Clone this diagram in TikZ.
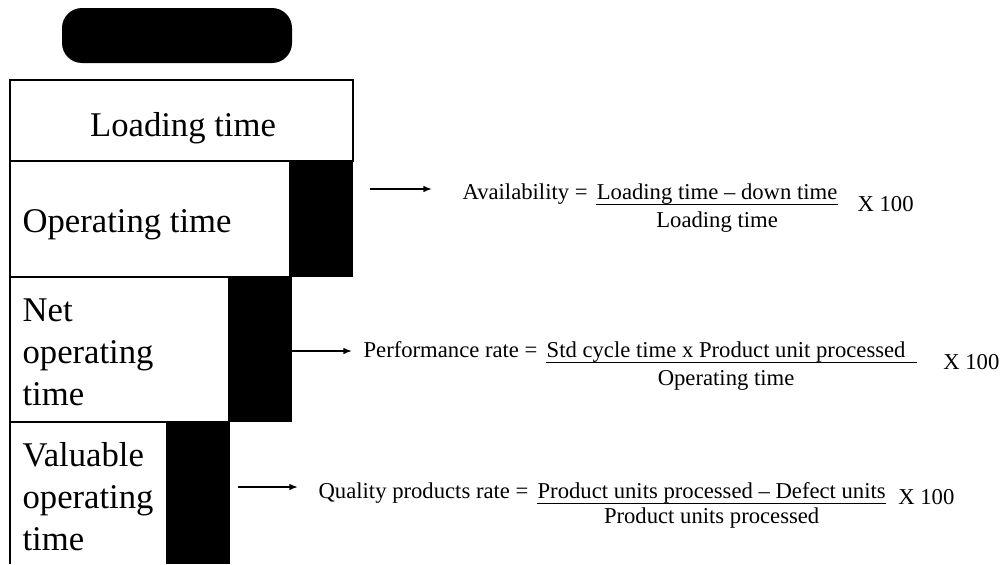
\documentclass[tikz,border=0pt]{standalone}
\usepackage{fontspec}
\setmainfont{Liberation Serif}
\usetikzlibrary{arrows.meta}

\tikzset{
  boxtext/.style={font=\fontsize{26}{31.5}\selectfont, inner sep=0pt},
  frm/.style={font=\fontsize{17}{20}\selectfont, inner sep=0pt},
  flow/.style={line width=1.2pt, -{Latex[length=6.5pt,width=5pt]}},
}

\begin{document}
\begin{tikzpicture}[x=0.75pt, y=-0.75pt, line width=0.9pt]
    \useasboundingbox (0,0) rectangle (1006,564);

    % heading
    \fill[rounded corners=15pt] (62,8) rectangle (292,63);

    % time bars
    \draw (10,80) rectangle (353,161);
    \node[boxtext, anchor=base] (load) at (183,136) {Loading time};

    \draw (10,161) rectangle (290,277);
    \fill (290,161) rectangle (353,277);
    \node[boxtext, anchor=base west] (op) at (22,232) {Operating time};

    \draw (10,277) rectangle (229,422);
    \fill (229,277) rectangle (292,422);
    \node[boxtext, anchor=base west, align=left] (net) at (22,405) {Net\\operating\\time};

    \draw (10,564) -- (10,422) -- (167,422) -- (167,564);
    \fill (167,422) rectangle (230,564);
    \node[boxtext, anchor=base west, align=left] (val) at (22,550) {Valuable\\operating\\time};

    % availability
    \coordinate (a1) at (370,189);
    \node[frm, anchor=base west] (avail) at (462,199) {Availability =};
    \node[frm, anchor=base west] (num1) at ([xshift=6pt]avail.base east) {Loading time – down time};
    \node[frm, anchor=base] (den1) at ([yshift=-21pt]num1.base) {Loading time};
    \draw[line width=0.8pt] (num1.south west) -- (num1.south east);
    \node[frm, anchor=base west] (fac1) at (857,211) {X 100};
    \draw[flow, shorten >=22.5pt] (a1) -- (a1 -| avail.west);

    % performance
    \coordinate (a2) at (292,351);
    \node[frm, anchor=base west] (perf) at (363,357) {Performance rate =};
    \node[frm, anchor=base west] (num2) at ([xshift=6pt]perf.base east) {Std cycle time x Product unit processed};
    \node[frm, anchor=base] (den2) at ([yshift=-21pt]num2.base) {Operating time};
    \draw[line width=0.8pt] (num2.south west) -- ([xshift=8pt]num2.south east);
    \node[frm, anchor=base east] (fac2) at (1000,369) {X 100};
    \draw[flow, shorten >=8.25pt] (a2) -- (a2 -| perf.west);

    % quality
    \coordinate (a3) at (238,487);
    \node[frm, anchor=base west] (qual) at (318,498) {Quality products rate =};
    \node[frm, anchor=base west] (num3) at ([xshift=6pt]qual.base east) {Product units processed – Defect units};
    \node[frm, anchor=base] (den3) at ([yshift=-19pt]num3.base) {Product units processed};
    \draw[line width=0.8pt] (num3.south west) -- (num3.south east);
    \node[frm, anchor=base east] (fac3) at (955,504) {X 100};
    \draw[flow, shorten >=15pt] (a3) -- (a3 -| qual.west);
\end{tikzpicture}
\end{document}
